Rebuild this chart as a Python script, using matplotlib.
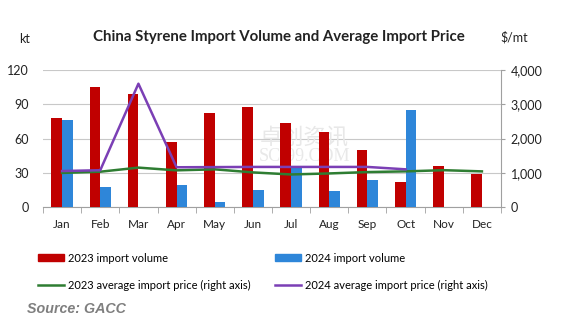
import matplotlib
matplotlib.use("Agg")
import matplotlib.pyplot as plt
import numpy as np
from matplotlib.patches import Patch
from matplotlib.lines import Line2D

months = ["Jan", "Feb", "Mar", "Apr", "May", "Jun", "Jul", "Aug", "Sep", "Oct", "Nov", "Dec"]
vol_2023 = [78, 105, 99, 57, 82, 88, 74, 66, 50, 22, 36, 29]
vol_2024 = [76, 17.5, 0, 19.5, 4, 14.5, 35, 14, 24, 85]
price_2023 = [995, 1030, 1150, 1070, 1100, 1010, 950, 980, 1020, 1040, 1075, 1040]
price_2024 = [1050, 1074, 3600, 1160, 1165, 1170, 1170, 1170, 1170, 1100]

plt.rcParams['font.family'] = ['Lato', 'DejaVu Sans']

fig = plt.figure(figsize=(5.64, 3.33), dpi=100)
ax = fig.add_axes([43/564, 1 - 207/333, (501-43)/564, (207-70)/333])
ax2 = ax.twinx()

red = "#C00000"
blue = "#2E86D9"
green = "#2E7D32"
purple = "#7B3FB5"

x = np.arange(len(months))
w = 0.28
ax.bar(x - w/2, vol_2023, width=w, color=red, zorder=3)
x24 = np.arange(len(vol_2024))
ax.bar(x24 + w/2, vol_2024, width=w, color=blue, zorder=3)

ax.set_xlim(-0.5, 11.5)
ax.set_ylim(0, 120)
ax.set_yticks([0, 30, 60, 90, 120])
ax.yaxis.grid(True, color="#C8C8C8", lw=0.8, zorder=0)
ax.set_axisbelow(True)
for s in ["top", "left", "right"]:
    ax.spines[s].set_visible(False)
ax.spines["bottom"].set_color("#A0A0A0")
ax.set_xticks(x)
ax.set_xticklabels(months)
ax.set_xticks(np.arange(-0.5, 12, 1), minor=True)
ax.tick_params(axis="x", which="major", length=0, pad=9, labelsize=8.5, labelcolor="#222222")
ax.tick_params(axis="x", which="minor", length=4, color="#A0A0A0")
ax.tick_params(axis="y", length=0, labelsize=9, pad=10, labelcolor="#222222")

# watermark
ax.text(0.57, 0.50, "卓创资讯", transform=ax.transAxes, ha="center", va="center",
        fontsize=16, color="#E8E8E8", family=["Noto Sans CJK SC", "DejaVu Sans"], zorder=1)
ax.text(0.57, 0.365, "SCI99.COM", transform=ax.transAxes, ha="center", va="center",
        fontsize=13, color="#E8E8E8", family=["Liberation Serif", "DejaVu Serif"], zorder=1)

ax2.plot(x, price_2023, color=green, lw=1.8, zorder=4)
ax2.plot(x24, price_2024, color=purple, lw=1.8, zorder=5)
ax2.set_ylim(0, 4000)
ax2.set_yticks([0, 1000, 2000, 3000, 4000])
ax2.set_yticklabels(["0", "1,000", "2,000", "3,000", "4,000"])
for s in ["top", "left", "bottom"]:
    ax2.spines[s].set_visible(False)
ax2.spines["right"].set_color("#A0A0A0")
ax2.tick_params(axis="y", length=3, color="#A0A0A0", labelsize=9, pad=4, labelcolor="#222222")

fig.text(279/564, 1 - 37/333, "China Styrene Import Volume and Average Import Price",
         ha="center", va="center", fontsize=10.8, fontweight="bold", color="#222222")
fig.text(25/564, 1 - 39/333, "kt", ha="center", va="center", fontsize=9, color="#222222")
fig.text(514/564, 1 - 37/333, "$/mt", ha="center", va="center", fontsize=9, color="#222222")

fs = 8
items = [
    (Patch(color=red), "2023 import volume", 38, 258),
    (Patch(color=blue), "2024 import volume", 275, 258),
    (Line2D([], [], color=green, lw=1.8), "2023 average import price (right axis)", 38, 285),
    (Line2D([], [], color=purple, lw=1.8), "2024 average import price (right axis)", 275, 285),
]
for h, lab, px, py in items:
    fig.legend([h], [lab], loc="center left", bbox_to_anchor=(px/564, 1 - py/333),
               frameon=False, fontsize=fs, borderpad=0, borderaxespad=0,
               handlelength=26/(fs*1.389), handleheight=0.55,
               handletextpad=4/(fs*1.389))

fig.text(27/564, 1 - 309/333, "Source: GACC", ha="left", va="center", fontsize=10.3,
         fontweight="bold", fontstyle="italic", color="#7F7F7F",
         family=["Liberation Sans", "DejaVu Sans"])

fig.savefig("out.png", dpi=100)
